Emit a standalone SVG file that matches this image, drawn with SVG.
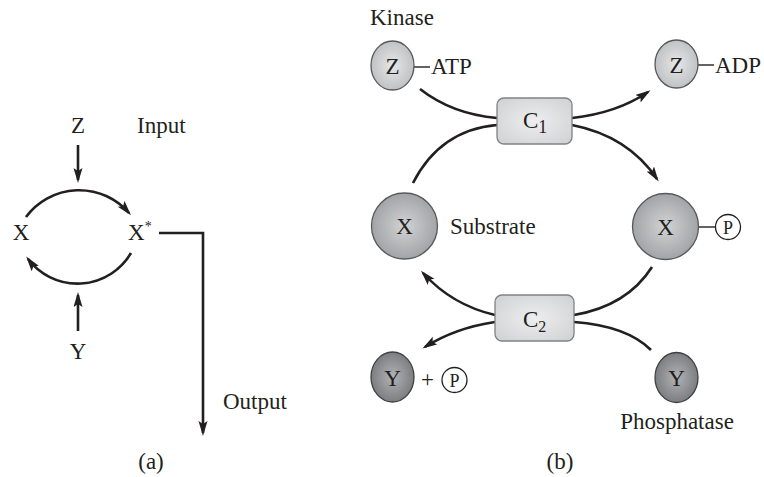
<svg xmlns="http://www.w3.org/2000/svg" width="764" height="477" viewBox="0 0 764 477">
<defs>
<style>
text{font-family:"Liberation Serif","Times New Roman",serif;font-size:23px;fill:#231f20}
.c{text-anchor:middle}
.sm{font-size:18px}
.ln{fill:none;stroke:#231f20;stroke-width:2.6}
.th{fill:none;stroke:#231f20;stroke-width:1.4}
.zf{fill:url(#gz);stroke:#58595b;stroke-width:1.3}
.xf{fill:url(#gx);stroke:#58595b;stroke-width:1.3}
.yf{fill:url(#gy);stroke:#414042;stroke-width:1.3}
.bx{fill:url(#gb);stroke:#808285;stroke-width:1.3}
.pc{fill:#fff;stroke:#231f20;stroke-width:1.3}
.ar{marker-end:url(#ah)}
</style>
<radialGradient id="gz" cx="0.5" cy="0.5" r="0.55"><stop offset="0" stop-color="#e6e7e8"/><stop offset="1" stop-color="#bcbec0"/></radialGradient>
<radialGradient id="gx" cx="0.5" cy="0.5" r="0.55"><stop offset="0" stop-color="#d1d3d4"/><stop offset="1" stop-color="#9d9fa2"/></radialGradient>
<radialGradient id="gy" cx="0.5" cy="0.5" r="0.55"><stop offset="0" stop-color="#b1b3b6"/><stop offset="1" stop-color="#77787b"/></radialGradient>
<radialGradient id="gb" cx="0.5" cy="0.5" r="0.7"><stop offset="0" stop-color="#eeeeef"/><stop offset="1" stop-color="#cfd0d2"/></radialGradient>
<marker id="ah" markerUnits="userSpaceOnUse" markerWidth="16" markerHeight="10" refX="12" refY="4.5" orient="auto">
<path d="M0,0 L15,4.5 L0,9 L3,4.5 z" fill="#231f20"/>
</marker>
</defs>

<g id="connectors">
<!-- panel a -->
<path class="ln ar" d="M78,145 V180"/>
<path class="ln ar" d="M26,217 A66,66 0 0 1 129,213"/>
<path class="ln ar" d="M131,253 A62,62 0 0 1 28,259"/>
<path class="ln ar" d="M78,331 V295"/>
<path class="ln ar" d="M159,233 H203 V433"/>
<!-- panel b -->
<path class="ln" d="M420,89 Q452,114 497,118"/>
<path class="ln" d="M413,183 Q440,130 497,125"/>
<path class="ln ar" d="M572,118 Q617,113 648,92"/>
<path class="ln ar" d="M572,125 Q628,136 657,179"/>
<path class="ln ar" d="M495,315 Q452,305 423,273"/>
<path class="ln ar" d="M495,322 Q455,328 425,347"/>
<path class="ln" d="M652,267 Q627,306 574,315"/>
<path class="ln" d="M651,350 Q627,326 574,322"/>
<path class="th" d="M414,67 H430"/>
<path class="th" d="M698,65 H714"/>
<path class="th" d="M698,227 H715"/>
</g>

<!-- panel a nodes -->
<g id="a-Z"><text class="c" x="78" y="133">Z</text></g>
<g id="a-Input"><text x="137" y="133">Input</text></g>
<g id="a-X"><text class="c" x="21" y="240">X</text></g>
<g id="a-Xstar"><text x="128" y="240">X<tspan font-size="14" dy="-9">*</tspan></text></g>
<g id="a-Y"><text class="c" x="78" y="359">Y</text></g>
<g id="a-Output"><text x="223" y="409">Output</text></g>
<g id="a-label"><text class="c" x="151" y="469">(a)</text></g>

<!-- panel b nodes -->
<g id="b-Kinase"><text x="370" y="25">Kinase</text></g>
<g id="b-Z-ATP">
<ellipse class="zf" cx="392.5" cy="65.5" rx="21.5" ry="24.5"/>
<text class="c" x="392.5" y="74">Z</text>
<text x="431" y="74">ATP</text>
</g>
<g id="b-Z-ADP">
<ellipse class="zf" cx="676.5" cy="64" rx="21.5" ry="24"/>
<text class="c" x="676.5" y="72.5">Z</text>
<text x="715" y="73">ADP</text>
</g>
<g id="b-C1">
<rect class="bx" x="497" y="98" width="75" height="46" rx="7"/>
<text x="523" y="128">C<tspan class="sm" dy="5" font-size="16">1</tspan></text>
</g>
<g id="b-X">
<circle class="xf" cx="404.5" cy="226" r="33"/>
<text class="c" x="404.5" y="234">X</text>
</g>
<g id="b-Substrate"><text x="450" y="234">Substrate</text></g>
<g id="b-XP">
<circle class="xf" cx="665.5" cy="226.5" r="33"/>
<text class="c" x="665.5" y="234.5">X</text>
<circle class="pc" cx="728" cy="227" r="12.5"/>
<text class="c sm" x="728" y="233.5">P</text>
</g>
<g id="b-C2">
<rect class="bx" x="495" y="295" width="79" height="46" rx="7"/>
<text x="523" y="327">C<tspan dy="5" font-size="16">2</tspan></text>
</g>
<g id="b-Y-P">
<ellipse class="yf" cx="392.5" cy="377" rx="21.5" ry="25"/>
<text class="c" x="392.5" y="385.5">Y</text>
<text class="c" x="427.5" y="387" fill="#58595b">+</text>
<circle class="pc" cx="454.5" cy="380" r="12.5"/>
<text class="c sm" x="454.5" y="386.5">P</text>
</g>
<g id="b-Y">
<ellipse class="yf" cx="676.5" cy="377.5" rx="21.5" ry="25"/>
<text class="c" x="676.5" y="386">Y</text>
</g>
<g id="b-Phosphatase"><text class="c" x="677" y="429">Phosphatase</text></g>
<g id="b-label"><text class="c" x="560" y="469">(b)</text></g>
</svg>
